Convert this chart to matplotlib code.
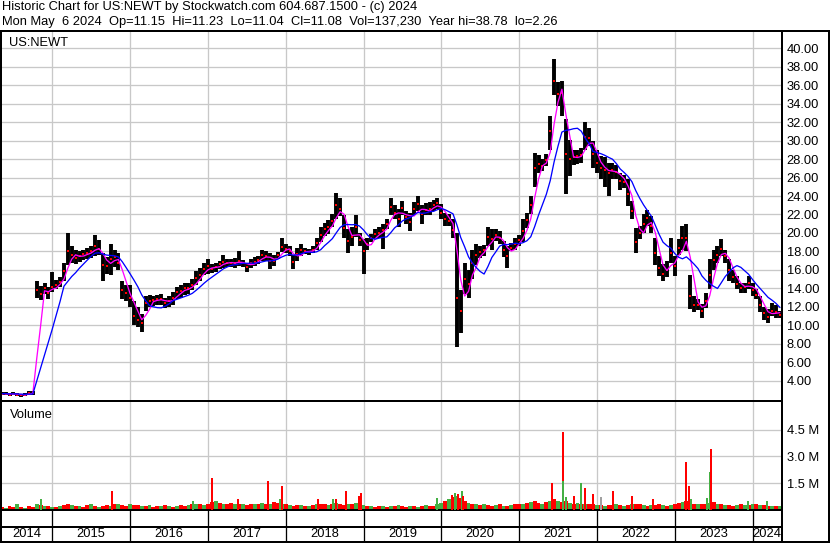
import numpy as np
import matplotlib
matplotlib.use("Agg")
import matplotlib.pyplot as plt
from matplotlib.lines import Line2D

plt.rcParams['font.family'] = ['Liberation Sans', 'DejaVu Sans']

# ---------------- data ----------------
start_year = 2014.35      # first sample (decimal year)
step_year = 0.05          # spacing of the samples

lows = [2.4, 2.4, 2.3, 2.4, 2.3, 2.26, 2.3, 2.5, 2.5, 13.0,
        12.7, 13.4, 12.9, 13.6, 13.9, 14.2, 14.8, 16.5, 16.8, 16.6,
        16.9, 17.1, 17.2, 17.3, 17.5, 17.6, 14.8, 15.6, 15.5, 16.3,
        16.0, 12.8, 12.6, 12.0, 10.0, 9.8, 9.3, 11.5, 12.0, 12.1,
        12.2, 12.2, 11.9, 12.0, 12.2, 12.9, 13.0, 13.3, 13.4, 13.8,
        14.4, 14.8, 15.4, 15.6, 15.7, 15.8, 16.1, 16.2, 16.3, 16.3,
        16.2, 16.4, 16.3, 15.8, 16.2, 16.4, 16.6, 17.0, 17.0, 16.1,
        16.4, 17.2, 17.9, 17.8, 17.5, 16.1, 17.0, 17.5, 17.7, 17.6,
        17.8, 18.2, 19.0, 19.7, 19.9, 20.6, 21.5, 21.8, 19.5, 17.8,
        18.6, 19.6, 18.6, 15.6, 18.2, 19.0, 19.3, 19.4, 18.3, 20.4,
        21.9, 21.5, 20.6, 21.9, 21.0, 20.2, 21.9, 22.4, 21.0, 21.9,
        21.9, 22.4, 22.6, 21.5, 20.8, 20.8, 19.5, 7.6, 9.2, 13.4,
        13.0, 15.0, 16.5, 17.3, 17.5, 18.6, 18.2, 19.1, 18.8, 17.4,
        16.2, 18.0, 18.2, 18.6, 19.0, 20.5, 22.0, 25.0, 26.5, 26.7,
        27.2, 29.0, 34.9, 33.8, 32.7, 24.2, 26.2, 27.4, 27.5, 27.6,
        29.0, 29.4, 27.0, 26.5, 25.8, 25.0, 24.0, 25.8, 25.8, 24.7,
        24.9, 22.9, 21.5, 17.8, 19.3, 20.0, 20.7, 20.0, 16.5, 15.3,
        14.8, 15.2, 16.8, 15.3, 17.6, 18.2, 18.0, 11.8, 11.4, 11.7,
        10.8, 11.9, 13.9, 16.0, 16.8, 17.5, 16.8, 14.8, 14.6, 13.9,
        13.5, 13.5, 13.9, 13.2, 12.8, 11.4, 10.6, 10.2, 11.0, 10.8,
        10.8]

highs = [2.8, 2.8, 2.7, 2.8, 2.7, 2.6, 2.7, 2.9, 2.9, 14.8,
         14.3, 14.6, 14.2, 15.8, 14.9, 15.2, 16.8, 20.0, 18.6, 18.2,
         18.0, 18.2, 18.4, 18.6, 19.8, 19.2, 17.8, 17.4, 18.8, 18.2,
         17.8, 14.8, 14.4, 14.4, 12.6, 12.0, 11.2, 13.2, 13.3, 13.2,
         13.3, 13.4, 13.0, 13.2, 13.6, 14.2, 14.4, 14.6, 14.6, 15.0,
         15.9, 16.2, 16.8, 17.2, 16.6, 16.8, 17.0, 17.6, 17.2, 17.2,
         17.3, 18.0, 17.1, 16.8, 17.2, 17.4, 17.5, 18.2, 18.0, 17.8,
         17.6, 17.9, 19.4, 18.8, 18.6, 17.6, 18.4, 18.8, 18.4, 18.3,
         18.6, 19.5, 20.6, 21.1, 21.4, 22.1, 24.3, 23.8, 21.9, 20.4,
         20.6, 21.9, 20.0, 19.3, 19.5, 19.9, 20.4, 20.6, 21.0, 21.5,
         23.8, 23.0, 22.6, 23.5, 22.4, 22.2, 23.3, 24.0, 23.0, 23.2,
         23.3, 23.6, 23.8, 23.1, 22.2, 22.0, 21.5, 20.0, 13.8, 16.8,
         16.0, 18.2, 18.8, 18.6, 18.7, 20.6, 20.4, 20.4, 20.2, 19.1,
         18.6, 18.9, 19.5, 19.8, 21.5, 22.2, 24.0, 28.7, 28.4, 28.0,
         28.5, 32.7, 38.8, 36.3, 36.5, 32.3, 30.1, 29.0, 29.0, 29.2,
         32.0, 31.4, 30.0, 29.0, 28.3, 28.2, 27.6, 27.6, 27.4, 26.5,
         26.3, 25.8, 23.5, 20.5, 20.7, 22.0, 22.5, 21.8, 19.5, 17.5,
         16.6, 17.0, 19.4, 17.5, 19.3, 20.8, 21.0, 15.5, 13.2, 12.8,
         12.3, 13.5, 17.2, 18.2, 18.6, 19.3, 18.2, 17.2, 16.0, 15.3,
         14.6, 14.6, 15.3, 14.6, 13.9, 13.2, 12.0, 11.8, 12.4, 12.2,
         11.6]

closes = [2.6, 2.6, 2.5, 2.6, 2.5, 2.4, 2.5, 2.7, 2.7, 13.8,
          13.4, 14.0, 13.5, 14.2, 14.4, 14.7, 15.9, 18.0, 17.6, 17.3,
          17.5, 17.7, 17.8, 18.0, 18.6, 18.3, 16.5, 16.4, 17.2, 17.4,
          16.8, 13.8, 13.5, 13.0, 11.0, 10.6, 10.2, 12.4, 12.6, 12.7,
          12.8, 12.8, 12.4, 12.6, 13.0, 13.6, 13.7, 14.0, 14.0, 14.4,
          15.1, 15.5, 16.1, 16.4, 16.1, 16.3, 16.6, 16.9, 16.7, 16.8,
          16.7, 17.0, 16.7, 16.3, 16.7, 16.9, 17.1, 17.6, 17.5, 17.0,
          17.0, 17.6, 18.5, 18.3, 18.0, 16.9, 17.7, 18.1, 18.0, 17.9,
          18.2, 18.9, 19.8, 20.4, 20.6, 21.3, 23.0, 22.6, 20.5, 19.1,
          19.6, 20.6, 19.2, 18.0, 18.8, 19.4, 19.9, 20.0, 20.3, 21.0,
          22.8, 22.2, 21.5, 22.7, 21.7, 21.2, 22.6, 23.1, 22.0, 22.5,
          22.6, 23.0, 23.2, 22.2, 21.5, 21.3, 20.3, 13.0, 11.5, 15.0,
          14.5, 16.8, 17.6, 17.9, 18.1, 19.6, 19.3, 19.8, 19.5, 18.2,
          17.5, 18.4, 18.8, 19.2, 20.2, 21.4, 23.0, 27.0, 27.5, 27.3,
          27.9, 31.0, 36.5, 35.0, 35.2, 28.5, 28.0, 28.2, 28.3, 28.4,
          30.4, 30.3, 28.5, 27.6, 27.0, 26.8, 26.5, 26.8, 26.6, 25.6,
          25.5, 24.2, 22.4, 19.0, 20.0, 21.0, 21.6, 20.8, 17.8, 16.2,
          15.6, 16.0, 17.8, 16.4, 18.4, 19.4, 19.5, 13.2, 12.2, 12.2,
          11.5, 12.6, 15.5, 17.1, 17.6, 18.3, 17.5, 16.0, 15.2, 14.5,
          14.0, 14.1, 14.6, 13.8, 13.3, 12.2, 11.3, 10.9, 11.6, 11.4,
          11.1]

# baseline volume (millions of shares), one per sample
volume = [0.15, 0.12, 0.2, 0.14, 0.35, 0.16, 0.12, 0.2, 0.18, 0.3, 0.26, 0.22, 0.2,
          0.18, 0.15, 0.22, 0.25, 0.3, 0.28, 0.2, 0.22, 0.18, 0.25, 0.3, 0.2, 0.18, 0.22, 0.25, 0.2, 0.3, 0.35, 0.25, 0.22,
          0.3, 0.25, 0.28, 0.22, 0.2, 0.25, 0.18, 0.2, 0.22, 0.25, 0.2, 0.18, 0.22, 0.25, 0.2, 0.28, 0.3, 0.35, 0.3, 0.25,
          0.35, 0.45, 0.5, 0.4, 0.35, 0.3, 0.38, 0.3, 0.35, 0.3, 0.28, 0.32, 0.3, 0.35, 0.4, 0.35, 0.3, 0.45, 0.38, 0.32,
          0.3, 0.25, 0.22, 0.28, 0.25, 0.22, 0.2, 0.25, 0.3, 0.35, 0.3, 0.25, 0.35, 0.4, 0.3, 0.28, 0.35, 0.3, 0.38, 0.3,
          0.25, 0.22, 0.2, 0.18, 0.22, 0.2, 0.18, 0.2, 0.22, 0.25, 0.2, 0.18, 0.22, 0.2, 0.18, 0.22, 0.25, 0.2, 0.22, 0.3,
          0.4, 0.5, 0.6, 0.7, 0.75, 0.65, 0.5, 0.4, 0.35, 0.3, 0.28, 0.3, 0.25, 0.22, 0.25, 0.3, 0.22, 0.2, 0.25, 0.3,
          0.3, 0.35, 0.4, 0.45, 0.5, 0.4, 0.35, 0.45, 0.5, 0.6, 0.5, 0.45, 0.5, 0.4, 0.35, 0.4, 0.35, 0.3, 0.35, 0.3,
          0.28, 0.25, 0.22, 0.25, 0.28, 0.3, 0.25, 0.22, 0.28, 0.3, 0.35, 0.3, 0.25, 0.22, 0.25, 0.28, 0.3, 0.25, 0.22, 0.28,
          0.35, 0.4, 0.45, 0.5, 0.4, 0.35, 0.3, 0.3, 0.35, 0.4, 0.45, 0.35, 0.3, 0.28, 0.25, 0.22, 0.25, 0.3, 0.28, 0.25,
          0.3, 0.35, 0.28, 0.25, 0.22, 0.2, 0.22, 0.2]
volume_dir = ("rgrrgrgrrgrgr"
              "grgrrgrgrrgrgrrgrgrr"
              "grrgrgrrgrgrgrrgrgrg"
              "rrgrgrrgrgrrgrgrgrrg"
              "rgrrgrgrgrrgrgrrgrgr"
              "grgrrgrgrgrrgrgrgrrg"
              "grgrgrrgrgrgrrgrgrgr"
              "rgrgrrgrgrgrrgrgrgrr"
              "grgrrgrgrgrrgrgrrgrg"
              "rrgrgrgrrgrgrgrrgrgr"
              "grgrrgrg")

# high-volume days (decimal year, millions, direction)
spike_year = [2014.851, 2015.763, 2016.812, 2017.053, 2017.383, 2017.769, 2017.927, 2017.949,
              2018.411, 2018.604, 2018.643, 2018.771, 2018.946, 2018.964, 2019.941,
              2020.138, 2020.176, 2020.215, 2020.262, 2020.279, 2021.419, 2021.568, 2021.568,
              2021.599, 2021.702, 2021.796, 2021.843, 2021.946, 2022.053, 2022.203, 2022.451,
              2022.717, 2023.141, 2023.188, 2023.206, 2023.411, 2023.450, 2023.467, 2023.942,
              2024.183]
spike_vol = [0.58, 1.03, 0.52, 1.76, 0.63, 1.59, 0.58, 1.31,
             0.63, 0.63, 0.58, 1.08, 0.75, 0.97, 0.67,
             0.85, 0.95, 0.9, 1.05, 0.8, 1.48, 4.36, 1.59,
             0.71, 0.8, 1.53, 1.24, 0.86, 0.71, 1.03, 0.75,
             0.58, 2.71, 1.31, 0.58, 0.69, 2.11, 3.39, 0.52,
             0.47]
spike_dir = ['g', 'r', 'g', 'r', 'r', 'r', 'g', 'r',
             'r', 'g', 'r', 'r', 'r', 'r', 'g',
             'r', 'g', 'r', 'g', 'r', 'r', 'r', 'g',
             'g', 'r', 'g', 'r', 'r', 'u', 'r', 'r',
             'r', 'r', 'r', 'g', 'g', 'g', 'r', 'g',
             'g']

price_ticks = [4, 6, 8, 10, 12, 14, 16, 18, 20, 22, 24, 26, 28, 30, 32, 34, 36, 38, 40]
volume_ticks = [1.5, 3.0, 4.5]
volume_tick_labels = ["1.5 M", "3.0 M", "4.5 M"]
years = [2014, 2015, 2016, 2017, 2018, 2019, 2020, 2021, 2022, 2023, 2024]

header1 = "Historic Chart for US:NEWT by Stockwatch.com 604.687.1500 - (c) 2024"
header2 = ("Mon May  6 2024  Op=11.15  Hi=11.23  Lo=11.04  Cl=11.08  "
           "Vol=137,230  Year hi=38.78  lo=2.26")

# ---------------- layout / style ----------------
W, H = 830, 543
DPI = 100
PX = 72.0 / DPI          # one pixel in points
FS = 9.3
GRID = '#c8c8c8'
COLORS = {'r': '#ff0000', 'g': '#44b044', 'u': '#a0a0a0'}

X0, X1 = 2014.3406, 2024.3753


def fx(px):
    return px / W


def fy(py):
    return 1 - py / H


fig = plt.figure(figsize=(W / DPI, H / DPI), dpi=DPI)
fig.patch.set_facecolor('white')

t = start_year + step_year * np.arange(len(closes))
close_s = np.array(closes)
n_seen = np.arange(1, len(close_s) + 1)
ma_short = np.convolve(close_s, np.ones(3), 'full')[:len(close_s)] / np.minimum(n_seen, 3)
ma_long = np.convolve(close_s, np.ones(8), 'full')[:len(close_s)] / np.minimum(n_seen, 8)

# ---- price panel ----
L, R = 1.0, 781.7
axp = fig.add_axes([fx(L), fy(400.0), fx(R - L), (400.0 - 31.0) / H])
axp.set_xlim(X0, X1)
axp.set_ylim(1.91, 41.87)
axp.set_yticks(price_ticks)
axp.set_yticklabels(["%.2f" % v for v in price_ticks], fontsize=FS)
axp.yaxis.tick_right()
axp.tick_params(axis='y', length=0, pad=5 * PX)
axp.set_xticks(years[1:])
axp.tick_params(axis='x', length=0, labelbottom=False)
axp.grid(True, color=GRID, lw=1.3 * PX)
axp.set_axisbelow(True)
for side, lw in [('left', 2), ('right', 2), ('top', 2), ('bottom', 1)]:
    axp.spines[side].set_linewidth(lw * PX)
    axp.spines[side].set_color('black')

axp.vlines(t, lows, highs, color='black', lw=3.9 * PX, zorder=2)
axp.plot(t, closes, 's', color='#ff0000', ms=2.6 * PX, mew=0, zorder=3)
axp.plot(t, ma_short, color='#ff00ff', lw=1.3 * PX, zorder=4)
axp.plot(t, ma_long, color='#0000ff', lw=1.3 * PX, zorder=5)
fig.text(fx(9), fy(46), 'US:NEWT', fontsize=FS, va='baseline', ha='left')

# ---- volume panel ----
VT, VB = 401.3, 509.8
axv = fig.add_axes([fx(L), fy(VB), fx(R - L), (VB - VT) / H])
axv.set_xlim(X0, X1)
axv.set_ylim(0, (VB - VT) / 17.8)
axv.set_yticks(volume_ticks)
axv.set_yticklabels(volume_tick_labels, fontsize=FS)
axv.yaxis.tick_right()
axv.tick_params(axis='y', length=0, pad=5 * PX)
axv.set_xticks(years[1:])
axv.tick_params(axis='x', length=0, labelbottom=False)
axv.grid(True, color=GRID, lw=1.3 * PX)
axv.set_axisbelow(True)
for side, lw in [('left', 2), ('right', 2), ('top', 1), ('bottom', 2)]:
    axv.spines[side].set_linewidth(lw * PX)
    axv.spines[side].set_color('black')
axv.bar(t, volume, width=step_year, color=[COLORS[c] for c in volume_dir], lw=0, zorder=2)
axv.bar(spike_year, spike_vol, width=0.024, color=[COLORS[c] for c in spike_dir], lw=0, zorder=3)
fig.text(fx(9.5), fy(417.5), 'Volume', fontsize=FS, va='baseline', ha='left')

# ---- blank row and year-label row ----
for top, bot in [(510.5, 527.0), (527.0, 541.5)]:
    ax = fig.add_axes([fx(L), fy(bot), fx(R - L), (bot - top) / H])
    ax.set_xlim(X0, X1)
    ax.set_ylim(0, 1)
    ax.set_xticks([])
    ax.set_yticks([])
    for side in ['left', 'right', 'top', 'bottom']:
        ax.spines[side].set_visible(False)
    for y in years[1:]:
        ax.axvline(y, color='black', lw=1.3 * PX)
    if top > 520:
        for y in years:
            a, b = max(y, X0), min(y + 1, X1)
            ax.text((a + b) / 2, 0.5, str(y), ha='center', va='center', fontsize=FS)


# ---- frame lines ----
def hline(y, x0, x1, w):
    fig.add_artist(Line2D([fx(x0), fx(x1)], [fy(y), fy(y)], color='black', lw=w * PX,
                          transform=fig.transFigure, solid_capstyle='butt'))


def vline(x, y0, y1, w):
    fig.add_artist(Line2D([fx(x), fx(x)], [fy(y0), fy(y1)], color='black', lw=w * PX,
                          transform=fig.transFigure, solid_capstyle='butt'))


hline(30.5, 0, W, 2)
hline(527.0, 0, R, 2)
hline(542.0, 0, W, 2)
vline(1.0, 30, 543, 2)
vline(R, 30, 543, 2)
vline(829.0, 30, 543, 2)

# ---- header ----
fig.text(fx(2), fy(10), header1, fontsize=FS, va='baseline', ha='left')
fig.text(fx(2), fy(25.5), header2, fontsize=FS, va='baseline', ha='left')

fig.savefig('out.png', dpi=DPI, facecolor='white')
